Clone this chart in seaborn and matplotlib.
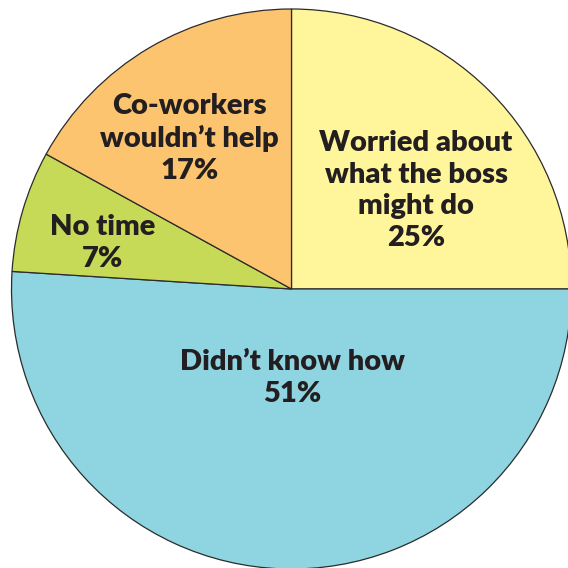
import matplotlib
matplotlib.use("Agg")
import matplotlib.pyplot as plt
import seaborn as sns

sns.set_theme(style="white")
plt.rcParams['font.family'] = ['Lato', 'DejaVu Sans']

categories = ["Worried about\nwhat the boss\nmight do", "Didn\u2019t know how", "No time", "Co-workers\nwouldn\u2019t help"]
values = [25, 51, 7, 17]
colors = ["#FFF59B", "#8ED5E1", "#C7DA57", "#FDC470"]
# label anchor positions (pie radius units)
label_pos = [(0.445, 0.352), (0.003, -0.318), (-0.675, 0.164), (-0.364, 0.5375)]

fig = plt.figure(figsize=(5.68, 5.68), dpi=100)
ax = fig.add_axes([0, 0, 1, 1])
R = 280.0
cx, cy = 291.5, 289.0
ax.pie(values, colors=colors, startangle=90, counterclock=False, radius=1,
       wedgeprops=dict(edgecolor="#2b2b2b", linewidth=0.9))
ax.set_xlim(-cx / R, (568 - cx) / R)
ax.set_ylim((cy - 568) / R, cy / R)
ax.set_aspect('equal')
ax.axis('off')

for cat, v, (x, y) in zip(categories, values, label_pos):
    ax.text(x, y, f"{cat}\n{v}%", ha='center', va='center', fontsize=21,
            fontweight='heavy', color="#231F20", linespacing=1.27)

fig.savefig("out.png", dpi=100, facecolor="white")
